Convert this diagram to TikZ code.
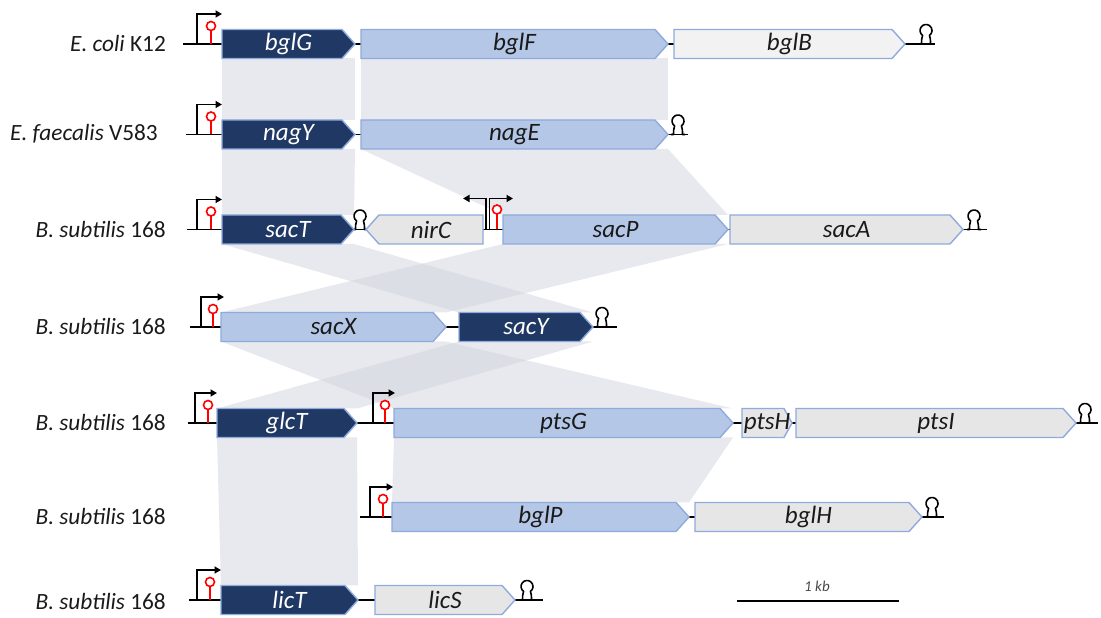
\documentclass[tikz,border=0pt]{standalone}
\usepackage{fontspec}
\setmainfont{Carlito}
\usetikzlibrary{arrows.meta}
\definecolor{navy}{HTML}{203864}
\definecolor{lblue}{HTML}{B4C7E7}
\definecolor{lgray}{HTML}{E7E6E6}
\definecolor{wgray}{HTML}{F2F2F2}
\definecolor{edgeblue}{HTML}{8FAADC}
\definecolor{shadec}{HTML}{CFD3DD}
\definecolor{txt}{HTML}{1A1A1A}
\pgfdeclarelayer{bg}
\pgfsetlayers{bg,main}
\tikzset{
  genebox/.style={draw=edgeblue, line width=1.4pt, line join=miter},
  gdark/.style={fill=navy},
  gblue/.style={fill=lblue},
  ggray/.style={fill=lgray},
  gwhite/.style={fill=wgray},
  genetext/.style={font=\fontsize{25}{28}\selectfont\itshape, inner sep=0pt},
  gdarktext/.style={text=white},
  gbluetext/.style={text=txt},
  ggraytext/.style={text=txt},
  gwhitetext/.style={text=txt},
  rowlabel/.style={font=\fontsize{23.3}{27}\selectfont, text=txt, anchor=east, inner sep=0pt},
  backbone/.style={line width=1.8pt, black},
  promline/.style={line width=1.8pt, black, -{Triangle[length=6.5pt,width=7pt]}},
  lolli/.style={line width=1.6pt, red},
  termline/.style={line width=1.6pt, black, line join=round},
  linkfill/.style={fill=shadec, fill opacity=0.5},
}
% right-pointing gene: name x1 x2 Y style label tip
\newcommand\generight[7]{%
  \coordinate (#1-tl) at (#2,#4+14.5);
  \coordinate (#1-tr) at (#3,#4+14.5);
  \coordinate (#1-bl) at (#2,#4-14.5);
  \coordinate (#1-br) at (#3,#4-14.5);
  \draw[genebox,#5] (#2,#4-14.5) -- ({#3-#7},#4-14.5) -- (#3,#4) -- ({#3-#7},#4+14.5) -- (#2,#4+14.5) -- cycle;
  \node[genetext,#5text] (#1) at ({(#2+#3)/2},#4) {#6};
}
% left-pointing gene: name x1(tip) x2 Y style label tip
\newcommand\geneleft[7]{%
  \draw[genebox,#5] (#3,#4-14.5) -- ({#2+#7},#4-14.5) -- (#2,#4) -- ({#2+#7},#4+14.5) -- (#3,#4+14.5) -- cycle;
  \node[genetext,#5text] (#1) at ({(#2+#7+#3)/2},#4) {#6};
}
% promoter: x Y lollipop-x arrow-end
\newcommand\prom[4]{%
  \draw[promline] (#1,#2) -- (#1,#2+30) -- (#4,#2+30);
  \draw[lolli] (#3,#2) -- (#3,#2+13.5);
  \draw[lolli,fill=white] (#3,#2+18) circle (4.5);
}
% terminator: x Y
\newcommand\term[2]{%
  \draw[termline] (#1-7,#2) -- (#1-4.5,#2) to[out=90,in=250] (#1-3.4,#2+8.6)
     arc[start angle=235,end angle=-55,radius=6] to[out=-70,in=90] (#1+4.5,#2) -- (#1+7,#2);
}
\newcommand\link[2]{%
  \begin{pgfonlayer}{bg}
  \fill[linkfill] (#1-bl) -- (#1-br) -- (#2-tr) -- (#2-tl) -- cycle;
  \end{pgfonlayer}
}
\begin{document}
\begin{tikzpicture}[x=1pt,y=1pt]
\useasboundingbox (0,0) rectangle (1101,618);

% row labels
\node[rowlabel] (L1) at (166,574) {\textit{E. coli} K12};
\node[rowlabel] (L2) at (158,484) {\textit{E. faecalis} V583};
\node[rowlabel] (L3) at (166,388.5) {\textit{B. subtilis} 168};
\node[rowlabel] (L4) at (166,291) {\textit{B. subtilis} 168};
\node[rowlabel] (L5) at (166,195) {\textit{B. subtilis} 168};
\node[rowlabel] (L6) at (166,101) {\textit{B. subtilis} 168};
\node[rowlabel] (L7) at (166,16) {\textit{B. subtilis} 168};

% backbones
\coordinate (r1s) at (183,574);   \coordinate (r1e) at (935,574);
\coordinate (r2s) at (186,483.5); \coordinate (r2e) at (688,483.5);
\coordinate (r3s) at (187,388.5); \coordinate (r3e) at (987,388.5);
\coordinate (r4s) at (190,291);   \coordinate (r4e) at (617,291);
\coordinate (r5s) at (188,195);   \coordinate (r5e) at (1098,195);
\coordinate (r6s) at (360,101);   \coordinate (r6e) at (944,101);
\coordinate (r7s) at (189,18);    \coordinate (r7e) at (543,18);
\foreach \r in {1,...,7}{\draw[backbone] (r\r s) -- (r\r e);}

% promoters
\prom{197}{574}{211}{222}
\prom{197}{483.5}{211}{222}
\prom{197}{388.5}{211}{222}
\prom{201}{291}{213}{224}
\prom{195}{195}{208}{217}
\prom{373}{195}{385}{395}
\prom{370}{101}{383}{393}
\prom{197}{18}{210}{221}
% divergent promoter (row 3)
\draw[promline] (489.5,388.5) -- (489.5,419.5) -- (513,419.5);
\draw[promline] (486,388.5) -- (486,419.5) -- (463,419.5);
\draw[lolli] (497,388.5) -- (497,404);
\draw[lolli,fill=white] (497,408.5) circle (4.5);

% terminators
\term{926}{574}
\term{678}{483.5}
\term{360}{388.5}
\term{974}{388.5}
\term{602}{291}
\term{1085}{195}
\term{932}{101}
\term{527}{18}

% genes
\generight{bglG}{222}{355}{574}{gdark}{bglG}{13}
\generight{bglF}{361}{668}{574}{gblue}{bglF}{13}
\generight{bglB}{674}{905}{574}{gwhite}{bglB}{13}

\generight{nagY}{222}{355}{483.5}{gdark}{nagY}{13}
\generight{nagE}{361}{668}{483.5}{gblue}{nagE}{13}

\generight{sacT}{222}{354}{388.5}{gdark}{sacT}{13}
\geneleft{nirC}{366}{483}{388.5}{ggray}{nirC}{13}
\generight{sacP}{503}{728}{388.5}{gblue}{sacP}{13}
\generight{sacA}{730}{963}{388.5}{ggray}{sacA}{13}

\generight{sacX}{221}{446}{291}{gblue}{sacX}{13}
\generight{sacY}{459}{593}{291}{gdark}{sacY}{13}

\generight{glcT}{217}{357}{195}{gdark}{glcT}{13}
\generight{ptsG}{394}{733}{195}{gblue}{ptsG}{13}
\generight{ptsH}{742}{792}{195}{ggray}{ptsH}{8}
\generight{ptsI}{796}{1076}{195}{ggray}{ptsI}{13}

\generight{bglP}{392}{689}{101}{gblue}{bglP}{13}
\generight{bglH}{695}{922}{101}{ggray}{bglH}{13}

\generight{licT}{221}{358}{18}{gdark}{licT}{13}
\generight{licS}{375}{515}{18}{ggray}{licS}{13}

% homology shading
\link{bglG}{nagY}
\link{bglF}{nagE}
\link{nagY}{sacT}
\link{nagE}{sacP}
\link{sacT}{sacY}
\link{sacP}{sacX}
\link{sacX}{ptsG}
\link{sacY}{glcT}
\link{glcT}{licT}
\link{ptsG}{bglP}

% scale bar
\coordinate (sb1) at (737,17);
\coordinate (sb2) at (899,17);
\draw[line width=2pt, black] (sb1) -- (sb2);
\node[font=\fontsize{15}{17}\selectfont\itshape, text=txt!80] (kb) at (817,32) {1 kb};
\end{tikzpicture}
\end{document}
